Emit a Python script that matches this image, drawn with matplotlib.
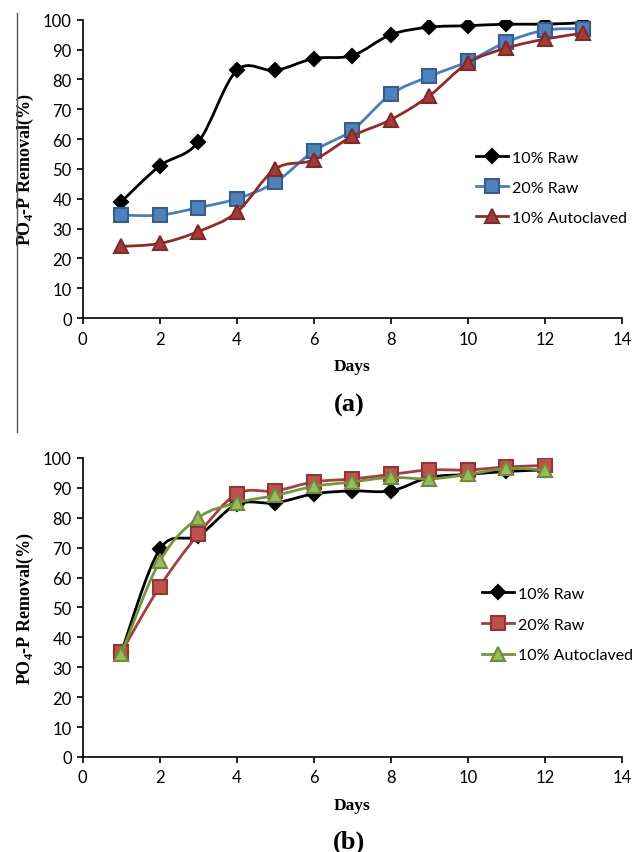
import numpy as np
import matplotlib
matplotlib.use('Agg')
import matplotlib.pyplot as plt
from matplotlib.path import Path
from matplotlib.patches import PathPatch
from matplotlib.lines import Line2D

# panel (a)
days_a = [1, 2, 3, 4, 5, 6, 7, 8, 9, 10, 11, 12, 13]
raw10_a = [39, 51, 59, 83, 83, 87, 88, 95, 97.5, 98, 98.5, 98.5, 99]
raw20_a = [34.5, 34.5, 37, 40, 45.5, 56, 63, 75, 81, 86, 92.5, 96.5, 97]
auto10_a = [24, 25, 29, 35.5, 50, 53, 61, 66.5, 74.5, 85.5, 90.5, 93.5, 95.5]

# panel (b)
days_b = [1, 2, 3, 4, 5, 6, 7, 8, 9, 10, 11, 12]
raw10_b = [35, 69.5, 74, 84.5, 85, 88, 89, 89, 93.5, 94.5, 95.5, 96]
raw20_b = [35, 57, 74.5, 88, 89, 92, 93, 94.5, 96, 96, 97, 97.5]
auto10_b = [34.5, 65.5, 80, 85, 87.5, 90.5, 92, 93.5, 93, 94.5, 96.5, 96]

labels = ['10% Raw', '20% Raw', '10% Autoclaved']

TICK_FONT = 'Lato'
SERIF = 'Liberation Serif'


def smooth_path(x, y, t=1 / 6):
    # excel-like smoothed line: catmull-rom turned into cubic bezier pieces
    x = np.asarray(x, float)
    y = np.asarray(y, float)
    verts = [(x[0], y[0])]
    codes = [Path.MOVETO]
    n = len(x)
    for i in range(n - 1):
        p0 = i - 1 if i > 0 else i
        p3 = i + 2 if i + 2 < n else i + 1
        c1 = (x[i] + (x[i + 1] - x[p0]) * t, y[i] + (y[i + 1] - y[p0]) * t)
        c2 = (x[i + 1] - (x[p3] - x[i]) * t, y[i + 1] - (y[p3] - y[i]) * t)
        verts += [c1, c2, (x[i + 1], y[i + 1])]
        codes += [Path.CURVE4] * 3
    return Path(verts, codes)


def draw_series(ax, x, y, st, z):
    ax.add_patch(PathPatch(smooth_path(x, y), facecolor='none', edgecolor=st['lc'],
                           lw=2.0, zorder=z, capstyle='round', joinstyle='round'))
    ax.plot(x, y, linestyle='none', marker=st['m'], ms=st['ms'], mfc=st['fc'],
            mec=st['ec'], mew=1.5, zorder=z + 0.5)


def legend_handle(st):
    return Line2D([], [], color=st['lc'], lw=2.0, marker=st['m'], ms=st['ms'],
                  mfc=st['fc'], mec=st['ec'], mew=1.5)


def setup_axes(ax):
    ax.set_xlim(0, 14)
    ax.set_ylim(0, 100)
    ax.set_xticks(range(0, 15, 2))
    ax.set_yticks(range(0, 101, 10))
    for s in ['top', 'right']:
        ax.spines[s].set_visible(False)
    for s in ['left', 'bottom']:
        ax.spines[s].set_linewidth(1.2)
    ax.tick_params(direction='out', length=4, width=1.2, labelsize=12, pad=4)
    ax.tick_params(axis='x', pad=5)
    for lb in ax.get_xticklabels() + ax.get_yticklabels():
        lb.set_fontfamily(TICK_FONT)
    ax.set_xlabel('Days', fontfamily=SERIF, fontweight='bold', fontsize=12.5, labelpad=8)
    ax.set_ylabel(r'PO$_{\mathbf{4}}$-P Removal(%)', fontfamily=SERIF, fontweight='bold',
                  fontsize=13, labelpad=5)


plt.rcParams['mathtext.fontset'] = 'custom'
plt.rcParams['mathtext.rm'] = 'Liberation Serif:bold'
plt.rcParams['mathtext.bf'] = 'Liberation Serif:bold'

fig = plt.figure(figsize=(6.32, 8.53), dpi=100)
ax1 = fig.add_axes([0.131, 0.626, 0.853, 0.3497])
ax2 = fig.add_axes([0.131, 0.1114, 0.853, 0.3505])

sty_a = [
    dict(lc='black', m='D', ms=7, fc='black', ec='black'),
    dict(lc='#4A7EBB', m='s', ms=9.5, fc='#4F81BD', ec='#385D8A'),
    dict(lc='#8B2E2B', m='^', ms=10, fc='#A33C39', ec='#7F2A28'),
]
sty_b = [
    dict(lc='black', m='D', ms=7, fc='black', ec='black'),
    dict(lc='#A0413D', m='s', ms=9.5, fc='#C0504D', ec='#8C3836'),
    dict(lc='#77933C', m='^', ms=10, fc='#9BBB59', ec='#71893F'),
]

for i, yy in enumerate([raw10_a, raw20_a, auto10_a]):
    draw_series(ax1, days_a, yy, sty_a[i], 3 + i)
for i, yy in enumerate([raw10_b, raw20_b, auto10_b]):
    draw_series(ax2, days_b, yy, sty_b[i], 3 + i)

setup_axes(ax1)
setup_axes(ax2)

leg_font = {'family': TICK_FONT, 'size': 11.5}
ax1.legend([legend_handle(s) for s in sty_a], labels, loc='upper left',
           bbox_to_anchor=(0.717, 0.583), frameon=False, prop=leg_font,
           handlelength=2.05, handletextpad=0.25, labelspacing=1.0, borderaxespad=0)
ax2.legend([legend_handle(s) for s in sty_b], labels, loc='upper left',
           bbox_to_anchor=(0.728, 0.592), frameon=False, prop=leg_font,
           handlelength=2.05, handletextpad=0.25, labelspacing=1.05, borderaxespad=0)

fig.text(349 / 632, 1 - 405 / 853, '(a)', ha='center', va='center',
         fontfamily=SERIF, fontweight='bold', fontsize=19)
fig.text(349 / 632, 1 - 842 / 853, '(b)', ha='center', va='center',
         fontfamily=SERIF, fontweight='bold', fontsize=19)

# thin rule down the left edge of panel (a)
fig.add_artist(Line2D([17 / 632, 17 / 632], [1 - 14 / 853, 1 - 433 / 853], color='#555555', lw=1.0))

fig.savefig('out.png', dpi=100)
